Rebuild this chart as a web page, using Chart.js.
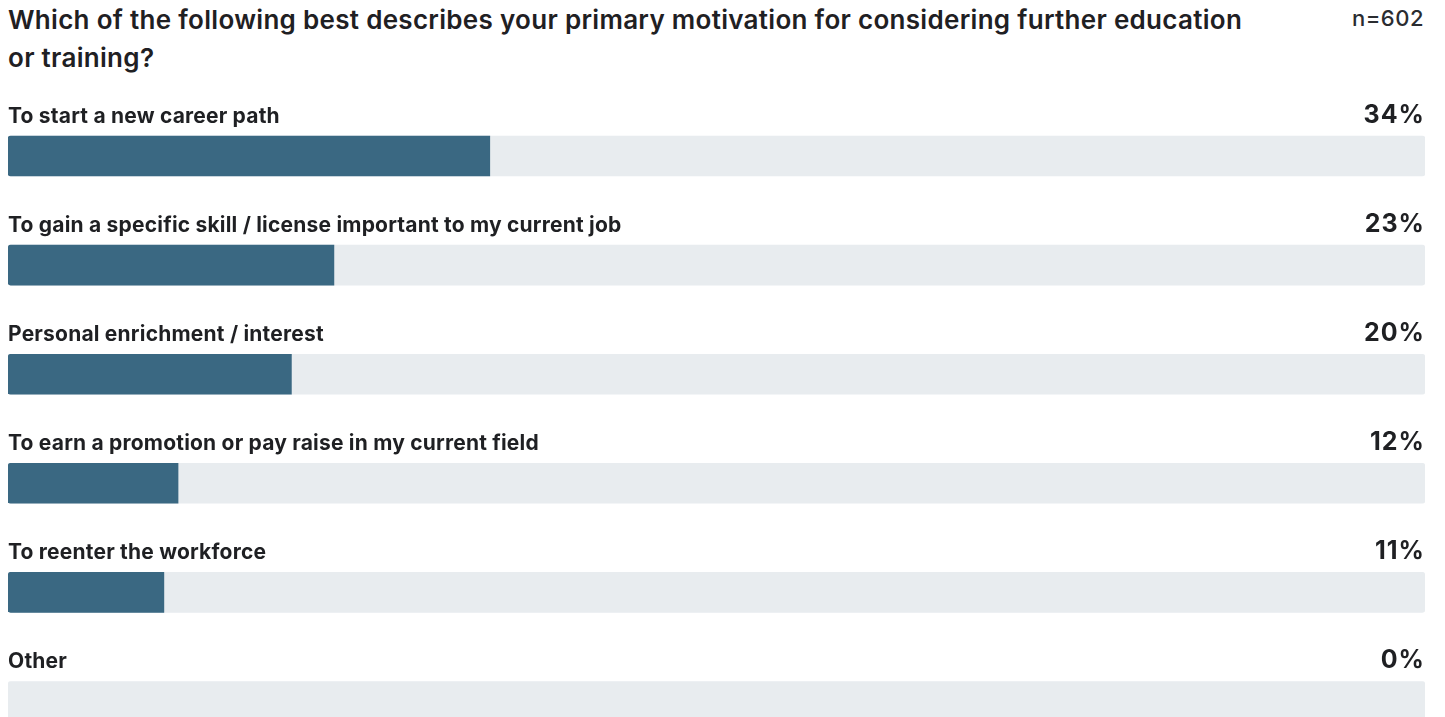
<!DOCTYPE html>
<html>
<head>
<meta charset="utf-8">
<script src="https://cdn.jsdelivr.net/npm/chart.js@4/dist/chart.umd.min.js"></script>
<style>
  html, body { margin: 0; padding: 0; background: #fff; overflow: hidden; }
  body { width: 1445px; height: 717px; position: relative; font-family: Inter, "Noto Sans", sans-serif; color: #1f2023; }
  .question { position: absolute; left: 8px; top: 1px; width: 1252px; font-size: 26px; font-weight: 600; letter-spacing: 0.3px; line-height: 38px; margin: 0; }
  .count { position: absolute; right: 21px; top: 7px; font-size: 22px; line-height: 22px; font-weight: 500; letter-spacing: 0.5px; color: #2a2c30; }
  #myChart { position: absolute; left: 0; top: 0; }
</style>
</head>
<body>
<h1 class="question">Which of the following best describes your primary motivation for considering further education or training?</h1>
<div class="count">n=602</div>
<canvas id="myChart" width="1445" height="760"></canvas>
<script>
const categories = [
    "To start a new career path",
    "To gain a specific skill / license important to my current job",
    "Personal enrichment / interest",
    "To earn a promotion or pay raise in my current field",
    "To reenter the workforce",
    "Other",
];
const percents = [34, 23, 20, 12, 11, 0];
const fullScale = 100;
const trackValues = categories.map(() => fullScale);

const barColor = "#3a6882";
const trackColor = "#e8ecef";
const textColor = "#1f2023";

// labels above each bar: answer on the left, share on the right
const answerLabels = {
    id: "answerLabels",
    afterDatasetsDraw(chart) {
        const { ctx, chartArea } = chart;
        const meta = chart.getDatasetMeta(0);
        ctx.save();
        ctx.fillStyle = textColor;
        ctx.textBaseline = "alphabetic";
        meta.data.forEach((bar, i) => {
            const y = bar.y - bar.height / 2 - 13;
            ctx.font = "700 21px Inter";
            ctx.letterSpacing = "0.2px";
            ctx.textAlign = "left";
            ctx.fillText(categories[i], chartArea.left, y);
            ctx.font = "700 25px Inter";
            ctx.letterSpacing = "1px";
            ctx.textAlign = "right";
            ctx.fillText(percents[i] + "%", chartArea.right, y);
        });
        ctx.restore();
    },
};

const data = {
    labels: categories,
    datasets: [
        {
            data: percents,
            // a zero share leaves no sliver on the track
            backgroundColor: (c) => (c.raw > 0 ? barColor : "transparent"),
            borderSkipped: false,
            borderRadius: { topLeft: 3, bottomLeft: 3, topRight: 0, bottomRight: 0 },
            barThickness: 40,
            grouped: false,
            order: 0,
        },
        {
            data: trackValues,
            backgroundColor: trackColor,
            borderSkipped: false,
            borderRadius: 3,
            barThickness: 40,
            grouped: false,
            order: 1,
        },
    ],
};

const options = {
    indexAxis: "y",
    responsive: false,
    animation: false,
    layout: {
        padding: { left: 8, right: 20, top: 101.5, bottom: 4 },
    },
    plugins: {
        legend: { display: false },
        tooltip: { enabled: false },
    },
    scales: {
        x: { min: 0, max: fullScale, display: false },
        y: { display: false },
    },
};

new Chart("myChart", { type: "bar", data, options, plugins: [answerLabels] });
</script>
</body>
</html>
